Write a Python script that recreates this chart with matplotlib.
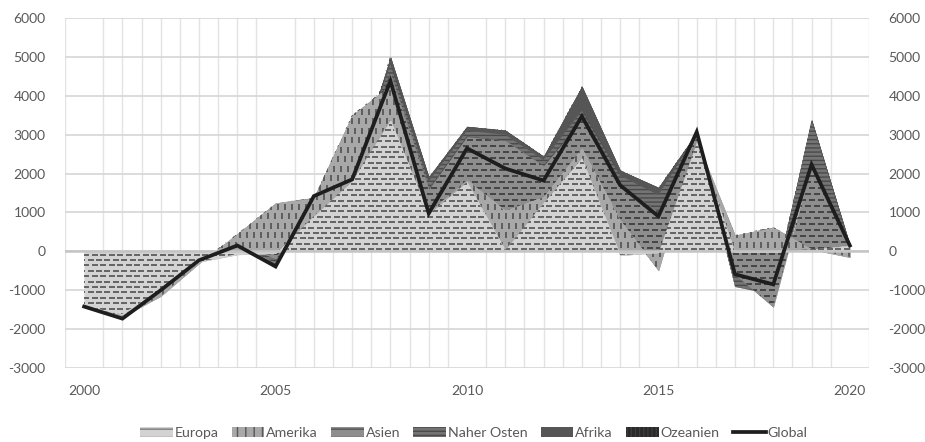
import numpy as np
import matplotlib
matplotlib.use("Agg")
import matplotlib.pyplot as plt
from matplotlib.patches import Patch
from matplotlib.lines import Line2D

plt.rcParams['font.family'] = ['Lato', 'DejaVu Sans']
plt.rcParams['hatch.linewidth'] = 1.0
plt.rcParams['axes.unicode_minus'] = False

years = list(range(2000, 2021))
europa = [-1400, -1620, -1000, -270, -80, -50, 900, 1800, 3370, 950, 1780, 30, 1250, 2390, -100, -30, 2800, -20, -20, 50, 150]
amerika = [-10, -60, -150, -40, 530, 1290, 480, 1700, 900, 50, 50, 1020, 150, 260, 900, -460, 50, 430, 640, 0, -300]
asien = [-5, -20, 50, 50, -250, -1420, 20, -1600, 300, 600, 1120, 1800, 800, 720, 900, 1490, 100, -1000, -2050, 2200, 250]
naher_osten = [-3, -15, 50, 20, -40, -120, 10, -30, 250, 200, 150, 150, 150, 250, 250, 450, 50, -310, 330, 1120, 50]
afrika = [-2, -10, 40, 10, -10, -60, 5, -10, 170, 110, 110, 110, 90, 620, 130, 190, 50, 150, 150, 0, 10]
ozeanien = [0, -5, 10, 0, 0, -30, 5, -10, -610, -935, -560, -980, -620, -770, -380, -740, 20, 160, 100, -1110, -10]
global_total = [-1420, -1730, -1000, -230, 150, -390, 1420, 1850, 4380, 975, 2650, 2130, 1820, 3470, 1700, 900, 3070, -590, -850, 2230, 150]
series_names = ['Europa', 'Amerika', 'Asien', 'Naher Osten', 'Afrika', 'Ozeanien']
y_ticks = [-3000, -2000, -1000, 0, 1000, 2000, 3000, 4000, 5000, 6000]
x_ticks = [2000, 2005, 2010, 2015, 2020]

W, H = 925, 442
fig = plt.figure(figsize=(W / 100, H / 100), dpi=100)
AX_L, AX_B, AX_W, AX_H = 65, 74, 804, 350
ax = fig.add_axes([AX_L / W, AX_B / H, AX_W / W, AX_H / H])
ax.set_xlim(1999.5, 2020.5)
ax.set_ylim(-3000, 6000)
px_x = AX_W / 21.0
px_y = AX_H / 9000.0

face = ['#d3d3d3', '#a8a8a8', '#8e8e8e', '#747474', '#565656', '#2a2a2a']
patterns = [
    ('_', 8.5, 5.4, 0.5, 4.2, 1.1, '#666666'),
    ('|', 7.0, 9.5, 0.5, 4.2, 1.1, '#4a4a4a'),
    ('_', 9.0, 6.0, 0.5, 4.4, 1.1, '#464646'),
    None,
    None,
    ('|', 4.0, 5.0, 0.5, 2.4, 0.8, '#3c3c3c'),
]

data = np.array([europa, amerika, asien, naher_osten, afrika, ozeanien], dtype=float)
cum = np.cumsum(data, axis=0)
bottoms = np.vstack([np.zeros(len(years)), cum[:-1]])


def add_pattern(path, spec, z):
    marker, pxp, pyp, stagger, ms, mew, color = spec
    gx = pxp / px_x
    gy = pyp / px_y
    ys = np.arange(-3000, 6000 + gy, gy)
    X, Y = [], []
    for i, y in enumerate(ys):
        off = gx * stagger if i % 2 else 0.0
        xs = np.arange(1999.5 + off, 2020.5 + gx, gx)
        X.append(xs)
        Y.append(np.full_like(xs, y))
    X = np.concatenate(X)
    Y = np.concatenate(Y)
    ln, = ax.plot(X, Y, ls='none', marker=marker, ms=ms, mew=mew, color=color, zorder=z)
    ln.set_clip_path(path, ax.transData)


for k in range(6):
    z = 20 - 2 * k
    hatch = '----' if k == 3 else None
    ec = '#4a4a4a' if k == 3 else face[k]
    coll = ax.fill_between(years, bottoms[k], cum[k], facecolor=face[k], edgecolor=ec,
                           linewidth=0.3 if k != 3 else 0.0, hatch=hatch, zorder=z)
    if patterns[k] is not None:
        add_pattern(coll.get_paths()[0], patterns[k], z + 0.5)

ax.axhline(0, color='#c4c4c4', lw=1.8, zorder=22)
ax.plot(years, global_total, color='#1e1e1e', lw=2.7, solid_joinstyle='miter', zorder=30)

ax.set_yticks(y_ticks)
ax.set_xticks(x_ticks)
ax.set_xticks(np.arange(1999.5, 2020.6, 0.5), minor=True)
ax.grid(True, which='minor', axis='x', color='#e3e3e3', lw=1.0)
ax.grid(True, which='major', axis='y', color='#d6d6d6', lw=1.2)
ax.set_axisbelow(True)
for s in ax.spines.values():
    s.set_visible(False)
ax.tick_params(axis='both', which='both', length=0, colors='#595959', labelsize=10)
ax.tick_params(axis='y', labelright=True, pad=14)
ax.tick_params(axis='x', pad=12)

handles = [
    Patch(facecolor=face[0], edgecolor='#7a7a7a', hatch='--', lw=0),
    Patch(facecolor=face[1], edgecolor='#555555', hatch='||', lw=0),
    Patch(facecolor=face[2], edgecolor='#555555', hatch='--', lw=0),
    Patch(facecolor=face[3], edgecolor='#4a4a4a', hatch='----', lw=0),
    Patch(facecolor=face[4], edgecolor=face[4], lw=0),
    Patch(facecolor=face[5], edgecolor='#3c3c3c', hatch='||||', lw=0),
    Line2D([0], [0], color='#1e1e1e', lw=2.7),
]
labels = series_names + ['Global']
leg = fig.legend(handles, labels, loc='lower center', bbox_to_anchor=(0.512, -0.016), ncol=7,
                 frameon=False, fontsize=10.2, handlelength=2.3, handleheight=0.7,
                 handletextpad=0.12, columnspacing=0.95, borderpad=0.2)
for t in leg.get_texts():
    t.set_color('#595959')

fig.savefig('out.png', dpi=100)
